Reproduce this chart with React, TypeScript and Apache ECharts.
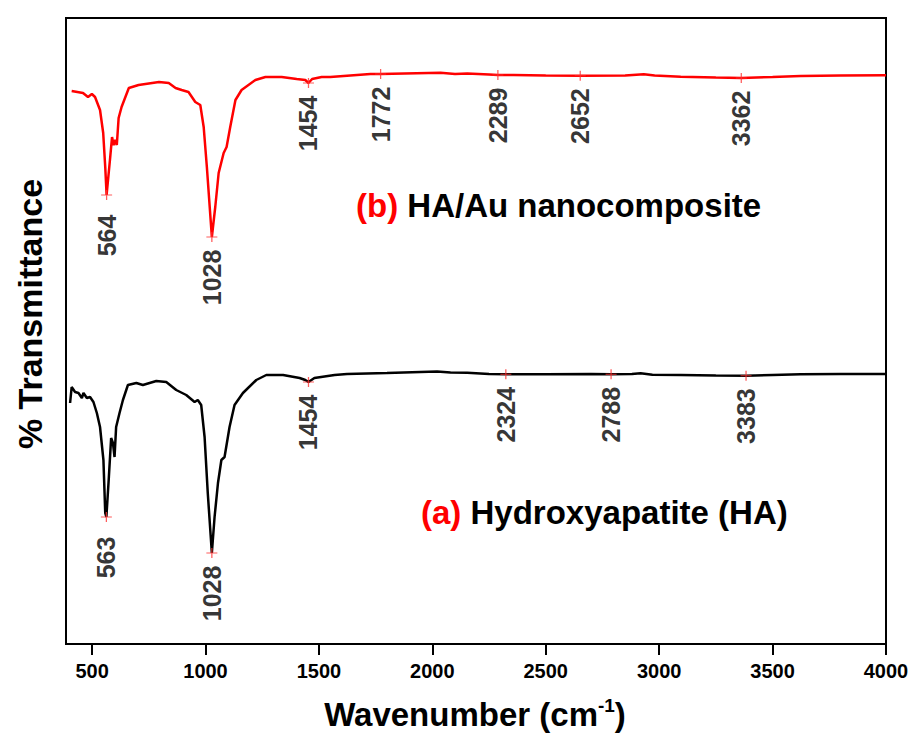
import React, { useEffect, useRef } from "react";
import * as echarts from "echarts";

// Wavenumber (cm-1) ticks
const xTicks = [500, 1000, 1500, 2000, 2500, 3000, 3500, 4000];

// (a) Hydroxyapatite (HA) spectrum: [wavenumber, transmittance (a.u.)]
const haSpectrum: [number, number][] = [
  [403, 241], [410, 257], [425, 252], [440, 251], [455, 246], [462, 251], [477, 246],
  [491, 247], [506, 242], [521, 231], [535, 217], [550, 184], [558, 131], [563, 127],
  [574, 167], [584, 206], [592, 201], [599, 187], [606, 217], [621, 231], [636, 244],
  [658, 259], [695, 261], [724, 259], [783, 263], [827, 262], [871, 254], [915, 249],
  [952, 242], [966, 244], [981, 239], [996, 207], [1010, 151], [1028, 91], [1040, 127],
  [1055, 161], [1070, 184], [1084, 187], [1106, 217], [1128, 239], [1165, 251],
  [1224, 264], [1268, 269], [1342, 269], [1415, 266], [1440, 264], [1454, 262],
  [1480, 266], [1569, 269], [1624, 270], [1800, 271], [2021, 272.5], [2080, 271.5],
  [2154, 271.3], [2250, 270], [2324, 269.7], [2500, 269.7], [2700, 270], [2788, 269.7],
  [2880, 270], [2918, 270.8], [2970, 269.3], [3095, 269], [3250, 268.5], [3383, 268.3],
  [3500, 269], [3624, 269.7], [3800, 270], [4000, 270],
];

// (b) HA/Au nanocomposite spectrum
const haAuSpectrum: [number, number][] = [
  [410, 553], [460, 551], [482, 547], [499, 550], [513, 547], [535, 534], [549, 511],
  [558, 477], [564, 449], [580, 487], [588, 507], [595, 499], [602, 504], [609, 499],
  [617, 526], [630, 537], [662, 556], [705, 559], [795, 562], [838, 561], [868, 556],
  [895, 554], [925, 552], [955, 542], [977, 539], [992, 517], [1006, 477], [1028, 407],
  [1043, 437], [1058, 471], [1080, 491], [1093, 497], [1109, 517], [1132, 544],
  [1159, 554], [1220, 564], [1264, 567], [1336, 567], [1402, 565], [1440, 564],
  [1454, 561], [1470, 565], [1512, 567], [1550, 567], [1727, 570], [1772, 570],
  [2036, 571.2], [2100, 570], [2154, 570.5], [2250, 569.5], [2289, 569], [2358, 569],
  [2500, 568.5], [2652, 568.3], [2850, 568.5], [2932, 569.8], [2980, 568.5],
  [3095, 567.3], [3250, 566.5], [3362, 566], [3500, 567], [3624, 568], [3800, 568.5],
  [4000, 568.7],
];

// Marked peaks
const haPeaks: [number, number][] = [
  [563, 127], [1028, 91], [1454, 262], [2324, 269.7], [2788, 269.7], [3383, 268.3],
];
const haAuPeaks: [number, number][] = [
  [564, 449], [1028, 407], [1454, 561], [1772, 570], [2289, 569], [2652, 568.3], [3362, 566],
];

const FONT = 'Arial, "Liberation Sans", sans-serif';
const PLUS = "path://M5,0V10M0,5H10";

function peakData(peaks: [number, number][]) {
  return peaks.map(([x, y]) => ({
    value: [x, y],
    label: { distance: x < 700 ? 14 : 7 },
  }));
}

function peakSeries(name: string, peaks: [number, number][]) {
  return {
    name,
    type: "scatter",
    data: peakData(peaks),
    symbol: PLUS,
    symbolSize: [11, 10],
    itemStyle: { color: "#ff3333", borderColor: "#ff3333", borderWidth: 1.2 },
    z: 5,
    label: {
      show: true,
      position: "bottom",
      rotate: 90,
      align: "right",
      verticalAlign: "middle",
      formatter: (p: any) => String(p.value[0]),
      fontFamily: FONT,
      fontSize: 25,
      fontWeight: "bold",
      color: "#000",
    },
  };
}

export default function App() {
  const ref = useRef<HTMLDivElement>(null);
  useEffect(() => {
    if (!ref.current) return;
    const chart = echarts.init(ref.current, undefined, { renderer: "svg" });
    chart.setOption({
      animation: false,
      backgroundColor: "#ffffff",
      grid: {
        left: 66,
        right: 26,
        top: 18,
        bottom: 89,
        show: true,
        borderColor: "#000",
        borderWidth: 2,
        outerBoundsMode: "none",
      },
      xAxis: {
        type: "value",
        min: 385,
        max: 4000,
        axisLine: { show: true, lineStyle: { color: "#000", width: 2 } },
        axisTick: {
          show: true,
          inside: false,
          length: 11,
          customValues: xTicks,
          lineStyle: { color: "#000", width: 2 },
        },
        axisLabel: {
          customValues: xTicks,
          margin: 17,
          fontFamily: FONT,
          fontSize: 20,
          fontWeight: "bold",
          color: "#000",
          formatter: (v: number) => String(v),
        },
        splitLine: { show: false },
      },
      yAxis: {
        type: "value",
        min: 0,
        max: 626,
        axisLine: { show: false },
        axisTick: { show: false },
        axisLabel: { show: false },
        splitLine: { show: false },
      },
      series: [
        {
          name: "(a) Hydroxyapatite (HA)",
          type: "line",
          data: haSpectrum,
          showSymbol: false,
          lineStyle: { color: "#000", width: 2.5 },
          z: 3,
        },
        {
          name: "(b) HA/Au nanocomposite",
          type: "line",
          data: haAuSpectrum,
          showSymbol: false,
          lineStyle: { color: "#ff0000", width: 2.5 },
          z: 3,
        },
        peakSeries("HA peaks", haPeaks),
        peakSeries("HA/Au peaks", haAuPeaks),
      ],
      graphic: [
        {
          type: "text",
          x: 356,
          y: 205,
          style: {
            text: "{r|(b)} HA/Au nanocomposite",
            font: `bold 33px ${FONT}`,
            fill: "#000",
            verticalAlign: "middle",
            align: "left",
            rich: { r: { fill: "#ff0000", fontSize: 33, fontWeight: "bold", fontFamily: FONT } },
          },
        },
        {
          type: "text",
          x: 421,
          y: 512,
          style: {
            text: "{r|(a)} Hydroxyapatite (HA)",
            font: `bold 33px ${FONT}`,
            fill: "#000",
            verticalAlign: "middle",
            align: "left",
            rich: { r: { fill: "#ff0000", fontSize: 33, fontWeight: "bold", fontFamily: FONT } },
          },
        },
        {
          type: "text",
          x: 30,
          y: 314,
          rotation: Math.PI / 2,
          style: {
            text: "% Transmittance",
            font: `bold 34px ${FONT}`,
            fill: "#000",
            align: "center",
            verticalAlign: "middle",
          },
        },
        {
          type: "text",
          x: 475,
          y: 714,
          style: {
            text: "Wavenumber (cm{s|-1})",
            font: `bold 33px ${FONT}`,
            fill: "#000",
            align: "center",
            verticalAlign: "middle",
            rich: {
              s: { fontSize: 19, fontWeight: "bold", fontFamily: FONT, verticalAlign: "top", padding: [0, 0, 17, 0] },
            },
          },
        },
      ],
    });
    return () => chart.dispose();
  }, []);
  return (
    <div
      ref={ref}
      style={{ position: "fixed", left: 0, top: 0, width: 912, height: 733 }}
    />
  );
}
